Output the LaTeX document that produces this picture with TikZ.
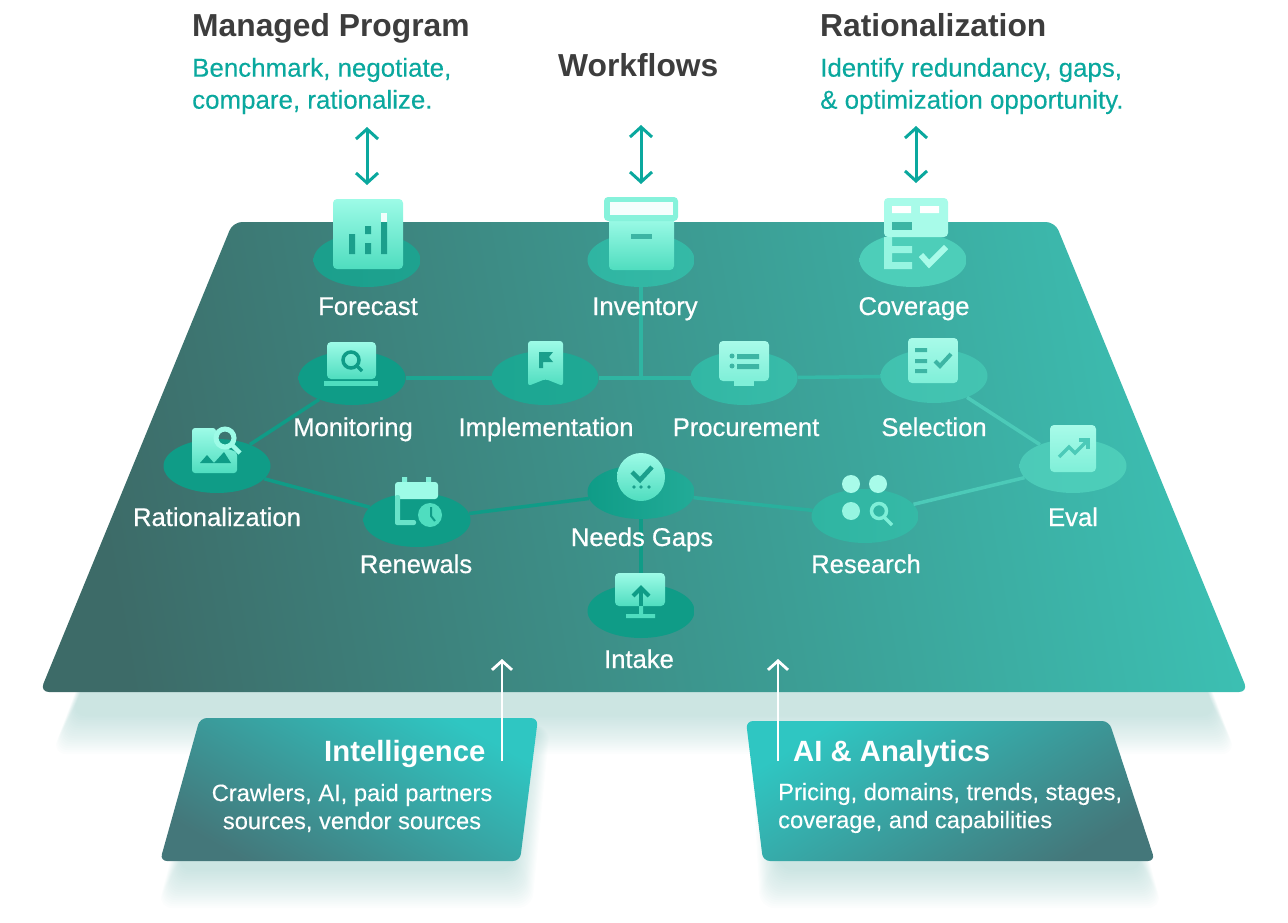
\documentclass[tikz,border=0pt]{standalone}
\usepackage{fontspec}
\setmainfont{Liberation Sans}
\newfontfamily\medfont[FakeBold=0.6]{Liberation Sans}
\newfontfamily\subfont[FakeBold=0.25]{Liberation Sans}
\definecolor{headgray}{HTML}{3D3D3D}
\definecolor{subteal}{HTML}{0AA89E}
\definecolor{platedark}{HTML}{3D6B68}
\definecolor{platemid}{HTML}{3E9690}
\definecolor{platelight}{HTML}{3CBFB2}
\definecolor{boxteal}{HTML}{2FC6C2}
\definecolor{boxdark}{HTML}{44777A}
\definecolor{softteal}{HTML}{3F9C94}
\definecolor{deepgreen}{HTML}{0F9C87}
\definecolor{midgreen}{HTML}{2FB5A2}
\definecolor{palegreen}{HTML}{4CCAB8}
\definecolor{tiletop}{HTML}{9DFBE7}
\definecolor{tilelow}{HTML}{4FDDBF}
\definecolor{tilepale}{HTML}{A8FBE9}
\definecolor{tilemid}{HTML}{7FEFD8}
\definecolor{glyphgreen}{HTML}{1B9F8C}
\definecolor{glyphmid}{HTML}{3DB5A4}
\usetikzlibrary{shapes.geometric,arrows.meta,positioning}
\tikzset{
  pad/.style 2 args={ellipse,minimum width=107pt,minimum height=54pt,inner sep=0pt,left color=#1,right color=#2},
  link/.style={line width=3.5pt,#1},
  lbl/.style={anchor=base,inner sep=0pt,text=white,font=\medfont\fontsize{25.6}{30}\selectfont},
  headlbl/.style={anchor=base west,inner sep=0pt,text=headgray,font=\bfseries\fontsize{31.8}{36}\selectfont},
  sublbl/.style={anchor=west,inner sep=0pt,align=left,text=subteal,font=\subfont\fontsize{25.9}{32}\selectfont},
  boxhead/.style={anchor=base west,inner sep=0pt,text=white,font=\bfseries\fontsize{29.3}{32}\selectfont},
  boxlbl/.style={inner sep=0pt,text=white,font=\subfont\fontsize{23.7}{28}\selectfont},
  dblarrow/.style={line width=3pt,subteal,{Straight Barb[length=10pt,width=22pt]}-{Straight Barb[length=10pt,width=22pt]}},
  uparrow/.style={line width=2.8pt,white,-{Straight Barb[length=9pt,width=20pt]}},
  tile/.style={rounded corners=4pt,top color=tiletop,bottom color=tilelow},
  paletile/.style={rounded corners=4pt,top color=tilepale,bottom color=tilemid},
  stroke/.style 2 args={line width=#1,#2,line join=miter}
}
\newcommand{\softshadow}[6]{%
  \foreach \g in {0,2,...,38}
    \fill[softteal,opacity=.017,rounded corners=14pt] ({#1+\g*.5},#5) -- ({#2-\g*.5},#5) -- ({#4-\g*.5},{#6-\g}) -- ({#3+\g*.5},{#6-\g}) -- cycle;
}
\begin{document}
\begin{tikzpicture}[x=1pt,y=-1pt]
\useasboundingbox (0,0) rectangle (1288,923);
% soft glow under the plate and the two boxes
\softshadow{245}{1043}{52}{1236}{240}{754}
\softshadow{205}{550}{158}{532}{726}{908}
\softshadow{750}{1114}{760}{1162}{728}{908}
% plate
\shade[rounded corners=9pt,left color=platedark,middle color=platemid,right color=platelight,shading angle=100]
  (233,222) -- (1055,222) -- (1248,692) -- (40,692) -- cycle;
% lower boxes
\shade[rounded corners=7pt,bottom color=boxdark,top color=boxteal,shading angle=-30]
  (200,718) -- (538,718) -- (520,861) -- (160,861) -- cycle;
\shade[rounded corners=7pt,bottom color=boxdark,top color=boxteal,shading angle=32]
  (746,721) -- (1109,721) -- (1155,861) -- (763,861) -- cycle;

% ellipses
\node[pad={glyphgreen}{glyphgreen!85!midgreen}] (forecast) at (367,260) {};
\node[pad={midgreen}{midgreen!80!palegreen}] (inventory) at (641,260) {};
\node[pad={palegreen!80!tilelow}{palegreen!80!tilelow}] (coverage) at (913,260) {};
\node[pad={deepgreen}{deepgreen}] (monitoring) at (352,378) {};
\node[pad={deepgreen!60!midgreen}{deepgreen!50!midgreen}] (implementation) at (545,378) {};
\node[pad={midgreen!90!palegreen}{midgreen!70!palegreen}] (procurement) at (744,378) {};
\node[pad={midgreen!40!palegreen}{midgreen!30!palegreen}] (selection) at (934,376) {};
\node[pad={palegreen}{palegreen!80!tilelow}] (eval) at (1073,466) {};
\node[pad={midgreen}{midgreen!80!palegreen}] (research) at (865,516) {};
\node[pad={deepgreen}{deepgreen}] (rationalization) at (217,466) {};
\node[pad={deepgreen}{deepgreen}] (renewals) at (417,520) {};
\node[pad={deepgreen}{deepgreen!40!midgreen}] (needs) at (641,492) {};
\node[pad={deepgreen}{deepgreen}] (intake) at (641,611) {};

% connectors
\coordinate (stem) at (inventory.south |- implementation.east);
\draw[link=deepgreen!60!midgreen] (monitoring) -- (implementation);
\draw[link=midgreen] (implementation) -- (procurement);
\draw[link=midgreen] (inventory) -- (stem);
\draw[link=midgreen!80!palegreen] (procurement) -- (selection);
\draw[link=palegreen] (selection) -- (eval);
\draw[link=palegreen] (eval) -- (research);
\draw[link=midgreen!80!deepgreen] (research) -- (needs);
\draw[link=deepgreen] (needs) -- (renewals);
\draw[link=deepgreen] (renewals) -- (rationalization);
\draw[link=deepgreen] (rationalization) -- (monitoring);
\draw[link=deepgreen] (needs) -- (intake);

% forecast icon
\shade[tile] (333,199) rectangle (403,269);
\fill[glyphgreen] (349,234) rectangle (355,254) (365,243) rectangle (371,254) (365,226) rectangle (371,234) (381,222) rectangle (387,254);
\fill[white!85!tiletop] (381,213) rectangle (387,222);
% inventory icon
\shade[tile] (609,218) rectangle (674,270);
\fill[tiletop!70!tilelow,rounded corners=4pt] (604,197) rectangle (678,221);
\fill[white!90!tiletop] (610,202) rectangle (673,215);
\fill[glyphmid] (631,234) rectangle (652,239);
% coverage icon
\fill[tilepale!80!tilelow] (884,237) rectangle (892,269) (892,246) rectangle (912,253) (892,262) rectangle (912,269);
\fill[tilepale,rounded corners=4pt] (884,198) rectangle (948,237);
\fill[white] (892,206) rectangle (911,213) (920,206) rectangle (939,213);
\fill[glyphmid] (892,222) rectangle (912,230);
\draw[stroke={6pt}{tilepale}] (921,255) -- (929,264) -- (946,247);
% monitoring icon
\shade[tile] (327,342) rectangle (376,379);
\fill[tilelow] (324,381) rectangle (378,386);
\draw[stroke={3.5pt}{deepgreen}] (351,360) circle (8);
\draw[stroke={3.5pt}{deepgreen}] (357,366) -- (362,371);
% implementation icon
\shade[tile,rounded corners=3pt] (528,341) -- (563,341) -- (563,386) -- (545.5,379) -- (528,386) -- cycle;
\fill[glyphgreen] (539,352) -- (553,352) -- (549,357) -- (553,362) -- (543,362) -- (543,368) -- (539,368) -- cycle;
% procurement icon
\fill[tilemid] (734,380) rectangle (754,386);
\shade[paletile] (719,341) rectangle (769,381);
\fill[glyphmid] (732,356) circle (2.5) (732,366) circle (2.5) (737,354) rectangle (759,359) (737,364) rectangle (759,369);
% selection icon
\shade[paletile] (908,338) rectangle (958,383);
\fill[glyphmid] (915,348) rectangle (927,352) (915,359) rectangle (927,363) (915,369) rectangle (927,373);
\draw[stroke={4pt}{glyphmid}] (935,361) -- (940,366) -- (951,354);
% eval icon
\shade[paletile] (1050,425) rectangle (1096,472);
\draw[stroke={3.5pt}{palegreen}] (1059,457) -- (1069,447) -- (1075,453) -- (1087,441);
\draw[stroke={3.5pt}{palegreen}] (1079,440) -- (1088,440) -- (1088,449);
% research icon
\fill[tilepale] (851,484) circle (9) (878,484) circle (9);
\fill[tilepale!80!tilelow] (851,511) circle (9);
\draw[stroke={3.5pt}{tilemid}] (879,511) circle (7.5);
\draw[stroke={3.5pt}{tilemid}] (884,517) -- (892,525);
% rationalization icon
\shade[tile,rounded corners=3pt] (192,428) -- (216,428) -- (216,445) -- (237,452) -- (237,473) -- (192,473) -- cycle;
\fill[deepgreen] (200,463) -- (207,455) -- (214,463) -- cycle (214,463) -- (224,452) -- (231,463) -- cycle;
\draw[stroke={5pt}{tiletop}] (225,438) circle (9);
\draw[stroke={4.5pt}{tiletop}] (232,445) -- (240,453);
% renewals icon
\fill[tilemid] (402,477) rectangle (407,484) (426,477) rectangle (431,484);
\fill[tiletop,rounded corners=3pt] (395,482) rectangle (438,499);
\fill[tilelow!85!white,rounded corners=2pt] (395,495) rectangle (400,525) (395,520) rectangle (416,525);
\fill[tilelow] (430,515) circle (12);
\draw[stroke={2pt}{deepgreen}] (431,507) -- (431,516) -- (435,521);
% needs gaps icon
\shade[top color=tiletop,bottom color=tilelow] (641,477) circle (24);
\draw[stroke={4.5pt}{glyphgreen}] (632,472) -- (640,480) -- (652,467);
\fill[glyphgreen] (634,487) circle (1.8) (641,487) circle (1.8) (649,487) circle (1.8);
% intake icon
\fill[tilelow] (639,606) rectangle (643,616) (626,614) rectangle (655,618);
\shade[tile] (615,573) rectangle (665,606);
\draw[stroke={4pt}{deepgreen}] (641,606) -- (641,589);
\draw[stroke={4pt}{deepgreen}] (633,596) -- (641,588) -- (649,596);

% node labels
\node[lbl] (forecastlbl) at (368,315) {Forecast};
\node[lbl] (inventorylbl) at (645,315) {Inventory};
\node[lbl] (coveragelbl) at (914,315) {Coverage};
\node[lbl] (monitoringlbl) at (353,436) {Monitoring};
\node[lbl] (implementationlbl) at (546,436) {Implementation};
\node[lbl] (procurementlbl) at (746,436) {Procurement};
\node[lbl] (selectionlbl) at (934,436) {Selection};
\node[lbl] (evallbl) at (1073,526) {Eval};
\node[lbl] (researchlbl) at (866,573) {Research};
\node[lbl] (rationalizationlbl) at (217,526) {Rationalization};
\node[lbl] (renewalslbl) at (416,573) {Renewals};
\node[lbl] (needslbl) at (642,546) {Needs Gaps};
\node[lbl] (intakelbl) at (639,668) {Intake};

% top headings
\node[headlbl] (programhead) at (192,37) {Managed Program};
\node[headlbl] (workflowhead) at (558,77) {Workflows};
\node[headlbl] (coveragehead) at (820,37) {Rationalization};
\node[sublbl] (programsub) at (192,86) {Benchmark, negotiate,\\compare, rationalize.};
\node[sublbl] (coveragesub) at (820,86) {Identify redundancy, gaps,\\\& optimization opportunity.};

% double arrows
\coordinate (programtop) at (367,127);
\coordinate (programend) at (367,185);
\coordinate (workflowtop) at (641,125);
\coordinate (workflowend) at (641,184);
\coordinate (coveragetop) at (916,126);
\coordinate (coverageend) at (916,183);
\draw[dblarrow] (programtop) -- (programend);
\draw[dblarrow] (workflowtop) -- (workflowend);
\draw[dblarrow] (coveragetop) -- (coverageend);

% lower box texts
\node[boxhead] (intelhead) at (324,761) {Intelligence};
\node[boxlbl,align=center] (inteltext) at (352,808) {Crawlers, AI, paid partners\\sources, vendor sources};
\node[boxhead] (aihead) at (793,761) {AI \& Analytics};
\node[boxlbl,align=left,anchor=west] (aitext) at (778,808) {Pricing, domains, trends, stages,\\coverage, and capabilities};

% white arrows
\coordinate (intelstart) at (502,761);
\coordinate (intelend) at (502,659);
\coordinate (aistart) at (778,761);
\coordinate (aiend) at (778,659);
\draw[uparrow] (intelstart) -- (intelend);
\draw[uparrow] (aistart) -- (aiend);
\end{tikzpicture}
\end{document}
